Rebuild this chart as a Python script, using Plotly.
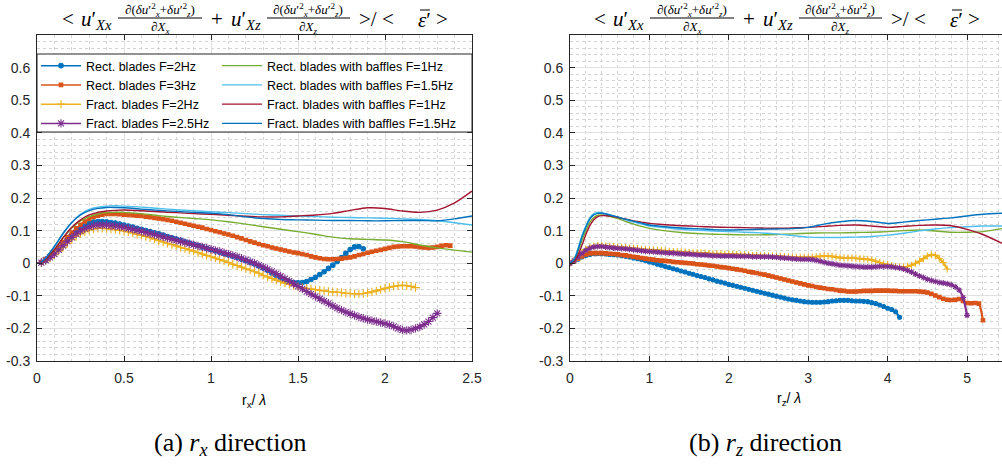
import plotly.graph_objects as go

W, H = 1002, 468


def px(x):
    return x / W


def py(y):
    return 1 - y / H


# ---------------- data: left panel (r_x / lambda) ----------------
rx_grid = [0.025, 0.05, 0.075, 0.1, 0.125, 0.15, 0.175, 0.2, 0.225, 0.25,
           0.275, 0.3, 0.325, 0.35, 0.375, 0.4, 0.425, 0.45, 0.475, 0.5,
           0.525, 0.55, 0.575, 0.6, 0.625, 0.65, 0.675, 0.7, 0.725, 0.75,
           0.775, 0.8, 0.825, 0.85, 0.875, 0.9, 0.925, 0.95, 0.975, 1.0,
           1.025, 1.05, 1.075, 1.1, 1.125, 1.15, 1.175, 1.2, 1.225, 1.25,
           1.275, 1.3, 1.325, 1.35, 1.375, 1.4, 1.425, 1.45, 1.475, 1.5,
           1.525, 1.55, 1.575, 1.6, 1.625, 1.65, 1.675, 1.7, 1.725, 1.75,
           1.775, 1.8, 1.825, 1.85, 1.875, 1.9, 1.925, 1.95, 1.975, 2.0,
           2.025, 2.05, 2.075, 2.1, 2.125, 2.15, 2.175, 2.2, 2.225, 2.25,
           2.275, 2.3, 2.325, 2.35, 2.375]

rx_rect2 = [0.003, 0.010, 0.020, 0.032, 0.046, 0.060, 0.074, 0.087, 0.099, 0.109,
            0.117, 0.122, 0.126, 0.128, 0.128, 0.127, 0.125, 0.123, 0.120, 0.117,
            0.114, 0.111, 0.107, 0.104, 0.100, 0.097, 0.093, 0.090, 0.086, 0.082,
            0.078, 0.074, 0.070, 0.066, 0.062, 0.058, 0.054, 0.050, 0.046, 0.042,
            0.038, 0.034, 0.030, 0.026, 0.022, 0.018, 0.013, 0.008, 0.003, -0.002,
            -0.008, -0.015, -0.022, -0.030, -0.038, -0.045, -0.051, -0.056, -0.059, -0.060,
            -0.059, -0.056, -0.050, -0.043, -0.035, -0.026, -0.016, -0.006, 0.005, 0.017,
            0.030, 0.042, 0.050, 0.051, 0.044]

rx_rect3 = [0.003, 0.011, 0.022, 0.035, 0.050, 0.065, 0.080, 0.094, 0.107, 0.118,
            0.128, 0.136, 0.142, 0.146, 0.149, 0.151, 0.151, 0.151, 0.150, 0.149,
            0.148, 0.147, 0.146, 0.145, 0.143, 0.141, 0.139, 0.137, 0.135, 0.133,
            0.130, 0.127, 0.124, 0.121, 0.118, 0.115, 0.112, 0.109, 0.105, 0.102,
            0.098, 0.095, 0.091, 0.088, 0.084, 0.080, 0.076, 0.071, 0.067, 0.063,
            0.059, 0.055, 0.052, 0.048, 0.045, 0.042, 0.039, 0.036, 0.033, 0.031,
            0.028, 0.025, 0.021, 0.018, 0.015, 0.013, 0.012, 0.012, 0.013, 0.014,
            0.016, 0.018, 0.021, 0.025, 0.028, 0.032, 0.035, 0.038, 0.041, 0.044,
            0.047, 0.050, 0.051, 0.052, 0.052, 0.052, 0.051, 0.049, 0.048, 0.047,
            0.048, 0.050, 0.053, 0.055, 0.054]

rx_fract2 = [0.002, 0.008, 0.016, 0.026, 0.037, 0.049, 0.061, 0.072, 0.082, 0.090,
             0.097, 0.102, 0.105, 0.107, 0.107, 0.106, 0.105, 0.103, 0.101, 0.099,
             0.096, 0.093, 0.089, 0.086, 0.082, 0.078, 0.074, 0.069, 0.065, 0.061,
             0.057, 0.053, 0.049, 0.045, 0.041, 0.037, 0.032, 0.028, 0.024, 0.020,
             0.016, 0.011, 0.007, 0.002, -0.003, -0.007, -0.012, -0.017, -0.021, -0.026,
             -0.031, -0.037, -0.042, -0.047, -0.052, -0.056, -0.061, -0.065, -0.069, -0.072,
             -0.075, -0.077, -0.079, -0.081, -0.083, -0.085, -0.087, -0.088, -0.089, -0.090,
             -0.092, -0.093, -0.094, -0.094, -0.093, -0.091, -0.088, -0.085, -0.081, -0.077,
             -0.074, -0.071, -0.069, -0.068, -0.069, -0.071, -0.075]

rx_fract25 = [0.002, 0.009, 0.018, 0.028, 0.041, 0.054, 0.067, 0.079, 0.090, 0.099,
              0.106, 0.111, 0.115, 0.117, 0.117, 0.117, 0.115, 0.114, 0.112, 0.110,
              0.107, 0.104, 0.101, 0.098, 0.094, 0.091, 0.088, 0.084, 0.081, 0.077,
              0.074, 0.070, 0.067, 0.063, 0.060, 0.056, 0.053, 0.050, 0.046, 0.043,
              0.039, 0.036, 0.032, 0.028, 0.024, 0.020, 0.015, 0.010, 0.005, 0.000,
              -0.006, -0.012, -0.018, -0.025, -0.032, -0.040, -0.047, -0.055, -0.063, -0.071,
              -0.079, -0.087, -0.095, -0.102, -0.109, -0.116, -0.123, -0.131, -0.138, -0.144,
              -0.150, -0.155, -0.160, -0.165, -0.169, -0.173, -0.176, -0.179, -0.182, -0.185,
              -0.189, -0.194, -0.200, -0.205, -0.206, -0.204, -0.200, -0.195, -0.188, -0.179,
              -0.167, -0.154]

rx_baf_x = [0.025, 0.05, 0.1, 0.15, 0.2, 0.25, 0.3, 0.35, 0.4, 0.45, 0.5, 0.6, 0.7, 0.8,
            0.9, 1.0, 1.1, 1.2, 1.3, 1.4, 1.5, 1.6, 1.7, 1.8, 1.9, 2.0, 2.1, 2.2, 2.3,
            2.4, 2.5]
rx_rectbaf1 = [0.002, 0.012, 0.042, 0.078, 0.108, 0.130, 0.143, 0.151, 0.155, 0.156, 0.156,
               0.152, 0.146, 0.141, 0.137, 0.133, 0.127, 0.120, 0.112, 0.104, 0.097, 0.089,
               0.080, 0.075, 0.073, 0.071, 0.066, 0.056, 0.047, 0.040, 0.034]
rx_rectbaf15 = [0.003, 0.015, 0.050, 0.090, 0.125, 0.150, 0.165, 0.172, 0.175, 0.176, 0.175,
                0.172, 0.168, 0.164, 0.161, 0.158, 0.155, 0.152, 0.149, 0.147, 0.145, 0.143,
                0.141, 0.140, 0.139, 0.138, 0.136, 0.134, 0.130, 0.124, 0.117]
rx_fractbaf1 = [0.002, 0.012, 0.042, 0.078, 0.110, 0.133, 0.148, 0.156, 0.160, 0.162, 0.163,
                0.161, 0.158, 0.155, 0.152, 0.150, 0.147, 0.144, 0.142, 0.142, 0.145, 0.148,
                0.153, 0.162, 0.170, 0.168, 0.160, 0.156, 0.163, 0.185, 0.221]
rx_fractbaf15 = [0.003, 0.016, 0.052, 0.092, 0.125, 0.148, 0.161, 0.168, 0.171, 0.171, 0.170,
                 0.166, 0.162, 0.159, 0.156, 0.153, 0.149, 0.142, 0.137, 0.134, 0.133, 0.132,
                 0.131, 0.131, 0.130, 0.130, 0.131, 0.131, 0.130, 0.136, 0.145]

# ---------------- data: right panel (r_z / lambda) ----------------
rz_grid = [0.0, 0.05, 0.1, 0.15, 0.2, 0.25, 0.3, 0.35, 0.4, 0.45,
           0.5, 0.55, 0.6, 0.65, 0.7, 0.75, 0.8, 0.85, 0.9, 0.95,
           1.0, 1.05, 1.1, 1.15, 1.2, 1.25, 1.3, 1.35, 1.4, 1.45,
           1.5, 1.55, 1.6, 1.65, 1.7, 1.75, 1.8, 1.85, 1.9, 1.95,
           2.0, 2.05, 2.1, 2.15, 2.2, 2.25, 2.3, 2.35, 2.4, 2.45,
           2.5, 2.55, 2.6, 2.65, 2.7, 2.75, 2.8, 2.85, 2.9, 2.95,
           3.0, 3.05, 3.1, 3.15, 3.2, 3.25, 3.3, 3.35, 3.4, 3.45,
           3.5, 3.55, 3.6, 3.65, 3.7, 3.75, 3.8, 3.85, 3.9, 3.95,
           4.0, 4.05, 4.1, 4.15, 4.2, 4.25, 4.3, 4.35, 4.4, 4.45,
           4.5, 4.55, 4.6, 4.65, 4.7, 4.75, 4.8, 4.85, 4.9, 4.95,
           5.0, 5.05, 5.1, 5.15, 5.2]

rz_rect2 = [0.000, 0.005, 0.012, 0.019, 0.024, 0.027, 0.029, 0.029, 0.029, 0.028,
            0.027, 0.026, 0.025, 0.023, 0.021, 0.019, 0.016, 0.014, 0.011, 0.008,
            0.004, 0.001, -0.003, -0.006, -0.010, -0.013, -0.017, -0.020, -0.024, -0.027,
            -0.031, -0.034, -0.038, -0.041, -0.044, -0.048, -0.051, -0.055, -0.058, -0.061,
            -0.065, -0.068, -0.071, -0.074, -0.077, -0.080, -0.083, -0.086, -0.089, -0.092,
            -0.095, -0.098, -0.101, -0.104, -0.107, -0.110, -0.112, -0.114, -0.116, -0.118,
            -0.119, -0.120, -0.120, -0.120, -0.119, -0.118, -0.116, -0.115, -0.114, -0.114,
            -0.114, -0.115, -0.116, -0.116, -0.117, -0.118, -0.121, -0.124, -0.128, -0.133,
            -0.138, -0.142, -0.149, -0.166]

rz_rect3 = [0.000, 0.006, 0.014, 0.021, 0.027, 0.030, 0.031, 0.031, 0.031, 0.030,
            0.029, 0.028, 0.027, 0.025, 0.024, 0.022, 0.020, 0.018, 0.016, 0.014,
            0.012, 0.011, 0.009, 0.008, 0.007, 0.006, 0.004, 0.003, 0.002, 0.001,
            0.000, -0.001, -0.003, -0.004, -0.005, -0.007, -0.008, -0.010, -0.012, -0.013,
            -0.015, -0.017, -0.019, -0.021, -0.023, -0.026, -0.028, -0.030, -0.033, -0.035,
            -0.038, -0.041, -0.044, -0.047, -0.050, -0.053, -0.056, -0.059, -0.062, -0.065,
            -0.068, -0.070, -0.073, -0.075, -0.077, -0.079, -0.080, -0.082, -0.084, -0.085,
            -0.087, -0.087, -0.087, -0.086, -0.085, -0.085, -0.085, -0.084, -0.084, -0.084,
            -0.084, -0.085, -0.085, -0.086, -0.086, -0.086, -0.086, -0.086, -0.087, -0.088,
            -0.090, -0.094, -0.099, -0.104, -0.109, -0.112, -0.113, -0.112, -0.110, -0.116,
            -0.122, -0.123, -0.122, -0.124, -0.175]

rz_fract2 = [0.000, 0.008, 0.020, 0.032, 0.042, 0.049, 0.053, 0.054, 0.054, 0.053,
             0.052, 0.051, 0.050, 0.049, 0.048, 0.047, 0.046, 0.045, 0.043, 0.042,
             0.041, 0.041, 0.040, 0.039, 0.038, 0.037, 0.036, 0.035, 0.035, 0.034,
             0.033, 0.032, 0.032, 0.031, 0.031, 0.030, 0.029, 0.029, 0.029, 0.028,
             0.028, 0.027, 0.027, 0.026, 0.026, 0.025, 0.024, 0.024, 0.023, 0.023,
             0.022, 0.022, 0.021, 0.021, 0.020, 0.019, 0.019, 0.018, 0.018, 0.018,
             0.018, 0.019, 0.020, 0.021, 0.022, 0.022, 0.021, 0.019, 0.017, 0.016,
             0.016, 0.016, 0.015, 0.014, 0.013, 0.012, 0.010, 0.006, 0.002, -0.002,
             -0.004, -0.007, -0.010, -0.012, -0.012, -0.010, -0.006, 0.000, 0.006, 0.014,
             0.022, 0.026, 0.024, 0.015, 0.002, -0.018]

rz_fract25 = [0.000, 0.008, 0.019, 0.030, 0.040, 0.046, 0.050, 0.051, 0.051, 0.050,
              0.048, 0.047, 0.046, 0.045, 0.044, 0.043, 0.041, 0.040, 0.038, 0.037,
              0.036, 0.035, 0.034, 0.033, 0.032, 0.031, 0.031, 0.030, 0.029, 0.028,
              0.028, 0.027, 0.026, 0.025, 0.025, 0.024, 0.023, 0.023, 0.022, 0.022,
              0.022, 0.022, 0.021, 0.021, 0.021, 0.021, 0.020, 0.020, 0.020, 0.020,
              0.020, 0.019, 0.018, 0.017, 0.016, 0.015, 0.014, 0.013, 0.012, 0.012,
              0.012, 0.011, 0.009, 0.006, 0.003, 0.000, -0.002, -0.004, -0.006, -0.007,
              -0.008, -0.009, -0.010, -0.011, -0.012, -0.012, -0.012, -0.011, -0.010, -0.010,
              -0.010, -0.011, -0.013, -0.015, -0.018, -0.022, -0.027, -0.033, -0.039, -0.044,
              -0.049, -0.053, -0.056, -0.059, -0.061, -0.063, -0.066, -0.072, -0.082, -0.105,
              -0.160]

rz_baf_x = [0.0, 0.05, 0.1, 0.15, 0.2, 0.25, 0.3, 0.35, 0.4, 0.5, 0.6, 0.7, 0.8, 0.9, 1.0,
            1.2, 1.4, 1.6, 1.8, 2.0, 2.2, 2.4, 2.6, 2.8, 3.0, 3.2, 3.4, 3.6, 3.8, 4.0,
            4.2, 4.4, 4.6, 4.8, 5.0, 5.2, 5.44]
rz_rectbaf1 = [0.0, 0.008, 0.035, 0.070, 0.100, 0.125, 0.140, 0.147, 0.148, 0.144, 0.137,
               0.128, 0.120, 0.113, 0.107, 0.099, 0.094, 0.091, 0.089, 0.088, 0.087, 0.087,
               0.088, 0.090, 0.092, 0.093, 0.093, 0.094, 0.095, 0.097, 0.100, 0.102, 0.099,
               0.095, 0.095, 0.097, 0.106]
rz_rectbaf15 = [0.0, 0.012, 0.045, 0.085, 0.115, 0.140, 0.152, 0.156, 0.155, 0.149, 0.141,
                0.133, 0.126, 0.120, 0.114, 0.109, 0.104, 0.101, 0.099, 0.097, 0.095, 0.093,
                0.090, 0.085, 0.080, 0.079, 0.079, 0.080, 0.082, 0.086, 0.092, 0.099, 0.105,
                0.109, 0.112, 0.114, 0.114]
rz_fractbaf1 = [0.0, 0.005, 0.025, 0.055, 0.088, 0.115, 0.133, 0.143, 0.146, 0.145, 0.141,
                0.135, 0.130, 0.126, 0.122, 0.118, 0.115, 0.113, 0.111, 0.110, 0.109, 0.108,
                0.107, 0.108, 0.110, 0.113, 0.116, 0.117, 0.114, 0.110, 0.113, 0.116, 0.117,
                0.115, 0.104, 0.088, 0.061]
rz_fractbaf15 = [0.0, 0.010, 0.040, 0.080, 0.110, 0.135, 0.148, 0.153, 0.153, 0.148, 0.142,
                 0.135, 0.129, 0.123, 0.117, 0.112, 0.108, 0.106, 0.103, 0.102, 0.103, 0.104,
                 0.105, 0.106, 0.110, 0.120, 0.127, 0.131, 0.128, 0.122, 0.126, 0.131, 0.135,
                 0.139, 0.145, 0.150, 0.153]

names = ["Rect. blades F=2Hz", "Rect. blades F=3Hz", "Fract. blades F=2Hz",
         "Fract. blades F=2.5Hz", "Rect. blades with baffles F=1Hz",
         "Rect. blades with baffles F=1.5Hz", "Fract. blades with baffles F=1Hz",
         "Fract. blades with baffles F=1.5Hz"]
colors = ["#0072BD", "#D95319", "#EDB120", "#7E2F8E",
          "#77AC30", "#4DBEEE", "#A2142F", "#0072BD"]

y_ticks = [-0.3, -0.2, -0.1, 0, 0.1, 0.2, 0.3, 0.4, 0.5, 0.6]
y_ticktext = ["-0.3", "-0.2", "-0.1", "0", "0.1", "0.2", "0.3", "0.4", "0.5", "0.6"]
rx_ticks = [0, 0.5, 1, 1.5, 2, 2.5]
rx_ticktext = ["0", "0.5", "1", "1.5", "2", "2.5"]
rz_ticks = [0, 1, 2, 3, 4, 5]
rz_ticktext = ["0", "1", "2", "3", "4", "5"]

SANS = "Liberation Sans, Arial, sans-serif"
SERIF = "Liberation Serif, Times New Roman, serif"
AXC = "#262626"

# marker styles per panel: (left, right)
marker_styles = [
    (dict(symbol="circle", size=4.5), dict(symbol="circle", size=4)),
    (dict(symbol="square", size=3.5), dict(symbol="square", size=3.5)),
    (dict(symbol="cross-thin-open", size=6), dict(symbol="cross-thin-open", size=5)),
    (dict(symbol="asterisk-open", size=7), dict(symbol="asterisk-open", size=5)),
]

fig = go.Figure()

panels = [
    (0, "x", "y", rx_grid, [rx_rect2, rx_rect3, rx_fract2, rx_fract25],
     rx_baf_x, [rx_rectbaf1, rx_rectbaf15, rx_fractbaf1, rx_fractbaf15], True),
    (1, "x2", "y2", rz_grid, [rz_rect2, rz_rect3, rz_fract2, rz_fract25],
     rz_baf_x, [rz_rectbaf1, rz_rectbaf15, rz_fractbaf1, rz_fractbaf15], False),
]

for pi, xa, ya, grid, mseries, bx, bseries, show in panels:
    for i, ys in enumerate(mseries):
        ms = marker_styles[i][pi]
        c = colors[i]
        fig.add_trace(go.Scatter(
            x=grid[:len(ys)], y=ys, mode="lines+markers", name=names[i],
            xaxis=xa, yaxis=ya, showlegend=show, legend="legend",
            line=dict(color=c, width=1.5 if pi == 0 else 2.2, shape="spline", smoothing=0.6),
            marker=dict(symbol=ms["symbol"], size=ms["size"], color=c,
                        line=dict(color=c, width=1.1)),
        ))
    for j, ys in enumerate(bseries):
        c = colors[4 + j]
        fig.add_trace(go.Scatter(
            x=bx, y=ys, mode="lines", name=names[4 + j],
            xaxis=xa, yaxis=ya, showlegend=show, legend="legend2",
            line=dict(color=c, width=1.4, shape="spline", smoothing=0.8),
        ))

Y_TOP, Y_BOT = 35, 361
ydom = [py(Y_BOT), py(Y_TOP)]

common_axis = dict(
    showline=True, linecolor=AXC, linewidth=1,
    ticks="inside", ticklen=5, tickcolor=AXC, tickwidth=1,
    showgrid=True, gridcolor="#e0e0e0", gridwidth=1, zeroline=False,
    tickfont=dict(family=SANS, size=14, color=AXC),
    automargin=False, layer="above traces",
)
minor_grid = dict(showgrid=True, gridcolor="#d4d4d4", griddash="dot", gridwidth=1)

fig.update_layout(
    width=W, height=H,
    margin=dict(l=0, r=0, t=0, b=0),
    paper_bgcolor="white", plot_bgcolor="white",
    xaxis=dict(domain=[px(37), px(472)], range=[0, 2.5], tickmode="array",
               tickvals=rx_ticks, ticktext=rx_ticktext, mirror="ticks",
               anchor="y", ticklabelstandoff=4,
               minor=dict(dtick=0.1, **minor_grid), **common_axis),
    yaxis=dict(domain=ydom, range=[-0.3, 0.7], tickmode="array",
               tickvals=y_ticks, ticktext=y_ticktext, mirror="ticks",
               anchor="x", ticklabelstandoff=3,
               minor=dict(dtick=0.02, **minor_grid), **common_axis),
    xaxis2=dict(domain=[px(570), 1.0], range=[0, 5.44], tickmode="array",
                tickvals=rz_ticks, ticktext=rz_ticktext, mirror="ticks",
                anchor="y2", ticklabelstandoff=4,
                minor=dict(dtick=0.2, **minor_grid), **common_axis),
    yaxis2=dict(domain=ydom, range=[-0.3, 0.7], tickmode="array",
                tickvals=y_ticks, ticktext=y_ticktext, mirror=False,
                anchor="x2", ticklabelstandoff=3,
                minor=dict(dtick=0.02, **minor_grid), **common_axis),
    legend=dict(x=px(36), y=py(51), xanchor="left", yanchor="top",
                bgcolor="rgba(0,0,0,0)", borderwidth=0, itemwidth=40,
                font=dict(family=SANS, size=12.5, color="black"),
                tracegroupgap=0, traceorder="normal"),
    legend2=dict(x=px(217), y=py(51), xanchor="left", yanchor="top",
                 bgcolor="rgba(0,0,0,0)", borderwidth=0, itemwidth=40,
                 font=dict(family=SANS, size=12.5, color="black"),
                 tracegroupgap=0, traceorder="normal"),
)

# legend frame
fig.add_shape(type="rect", xref="paper", yref="paper",
              x0=px(37), x1=px(472), y0=py(54), y1=py(132),
              line=dict(color=AXC, width=1), fillcolor="white", layer="above")


def txt(x, y, s, size, anchor="left", family=SERIF):
    fig.add_annotation(x=px(x), y=py(y), xref="paper", yref="paper", text=s,
                       showarrow=False, xanchor=anchor, yanchor="middle",
                       font=dict(family=family, size=size, color="black"))


def hline(x0, x1, y):
    fig.add_shape(type="line", xref="paper", yref="paper",
                  x0=px(x0), x1=px(x1), y0=py(y), y1=py(y),
                  line=dict(color="black", width=1))


num_x = "∂(<i>δu</i>′<sup>2</sup><sub><i>x</i></sub>+<i>δu</i>′<sup>2</sup><sub><i>z</i></sub>)"
for off in (0, 532):
    txt(60 + off, 19, "&lt;", 21)
    txt(79 + off, 20, "<i>u</i>′<sub><i>Xx</i></sub>", 21)
    txt(160 + off, 10, num_x, 13, anchor="center")
    hline(118 + off, 202 + off, 18)
    txt(160 + off, 27, "∂<i>X</i><sub><i>x</i></sub>", 13, anchor="center")
    txt(209 + off, 19, "+", 21)
    txt(229 + off, 20, "<i>u</i>′<sub><i>Xz</i></sub>", 21)
    txt(308 + off, 10, num_x, 13, anchor="center")
    hline(267 + off, 350 + off, 18)
    txt(308 + off, 27, "∂<i>X</i><sub><i>z</i></sub>", 13, anchor="center")
    txt(357 + off, 19, "&gt;/ &lt;", 21)
    txt(416 + off, 20, "<i>ε</i>′", 21)
    hline(420 + off, 430 + off, 10)
    txt(434 + off, 19, "&gt;", 21)

# axis labels
txt(254, 401, "r<sub>x</sub>/ <i>λ</i>", 14, anchor="center", family=SANS)
txt(789, 399, "r<sub>z</sub>/ <i>λ</i>", 14, anchor="center", family=SANS)

# sub-captions
txt(230, 444, "(a) <i>r<sub>x</sub></i> direction", 26, anchor="center")
txt(765, 444, "(b) <i>r<sub>z</sub></i> direction", 26, anchor="center")

fig.write_html("out.html", config={"displayModeBar": False},
               post_script="document.body.style.margin='0px';")
